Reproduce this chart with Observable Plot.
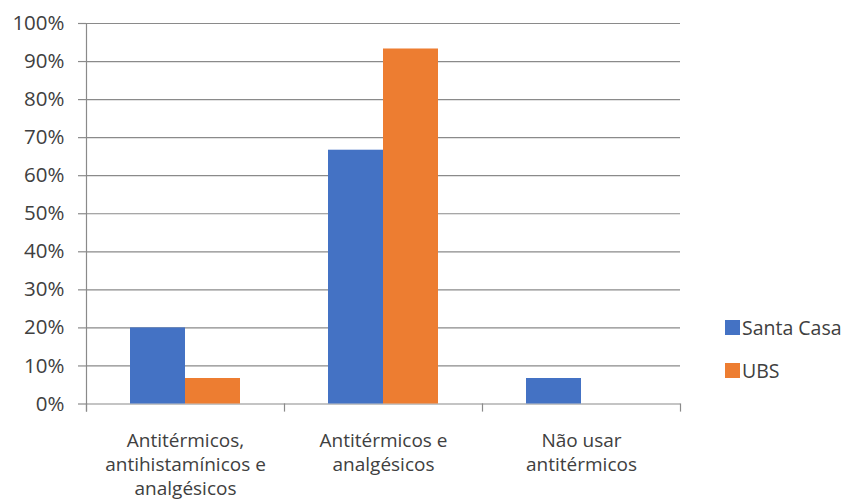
<!DOCTYPE html>
<html><head><meta charset="utf-8">
<script src="https://cdn.jsdelivr.net/npm/d3@7"></script>
<script src="https://cdn.jsdelivr.net/npm/@observablehq/plot@0.6"></script>
<style>
body{margin:0;background:#fff;font-family:"Open Sans",sans-serif;}
#wrap{position:relative;width:850px;height:504px;}
#legend{position:absolute;left:725px;top:315px;font-size:19.5px;color:#404040;}
.item{display:flex;align-items:center;height:24px;margin-bottom:19px;white-space:nowrap}
.sw{width:15px;height:15px;margin-right:2px;flex:none}
</style></head><body><div id="wrap"></div>
<script>
const categories = ["Antitérmicos,\nantihistamínicos e\nanalgésicos", "Antitérmicos e\nanalgésicos", "Não usar\nantitérmicos"];
const series = ["Santa Casa", "UBS"];
const santaCasa = [0.20, 0.667, 0.067];
const ubs = [0.067, 0.933, 0];
const yTicks = [0, 0.1, 0.2, 0.3, 0.4, 0.5, 0.6, 0.7, 0.8, 0.9, 1.0];
const colors = ["#4472C4", "#ED7D31"];

const grid = "#8a8a8a";
const textColor = "#404040";

const data = categories.flatMap((c, i) => [
  {category: c, series: series[0], value: santaCasa[i]},
  {category: c, series: series[1], value: ubs[i]}
]);

const chart = Plot.plot({
  width: 850, height: 504,
  marginLeft: 85, marginRight: 170, marginTop: 23, marginBottom: 100.5,
  style: {fontFamily: "Open Sans", background: "#fff"},
  fx: {domain: categories, padding: 0, label: null},
  x: {domain: series, paddingInner: 0, paddingOuter: 0.77, axis: null},
  y: {domain: [0, 1], label: null},
  color: {domain: series, range: colors},
  marks: [
    Plot.ruleY(yTicks, {stroke: grid, strokeWidth: 1.2}),
    Plot.barY(data, {fx: "category", x: "series", y: "value", fill: "series"}),
    Plot.frame({anchor: "left", stroke: grid, strokeWidth: 1.2, insetBottom: -7, facetAnchor: "left"}),
    Plot.frame({anchor: "left", stroke: grid, strokeWidth: 1.2, insetTop: 380.5, insetBottom: -7}),
    Plot.frame({anchor: "right", stroke: grid, strokeWidth: 1.2, insetTop: 380.5, insetBottom: -7, facetAnchor: "right"}),
    Plot.axisY({ticks: yTicks, tickFormat: d3.format(".0%"), tickSize: 8, tickPadding: 14, stroke: grid, strokeWidth: 1.2, fill: textColor, fontSize: 20.5, label: null}),
    Plot.axisFx({anchor: "bottom", tickSize: 0, tickPadding: 26, fontSize: 19, fill: textColor, lineHeight: 1.27, label: null})
  ]
});

const wrap = document.getElementById("wrap");
wrap.appendChild(chart);

const legend = d3.select(wrap).append("div").attr("id", "legend");
series.forEach((s, i) => {
  const item = legend.append("div").attr("class", "item");
  item.append("div").attr("class", "sw").style("background", colors[i]);
  item.append("span").text(s);
});
</script>
</body></html>
